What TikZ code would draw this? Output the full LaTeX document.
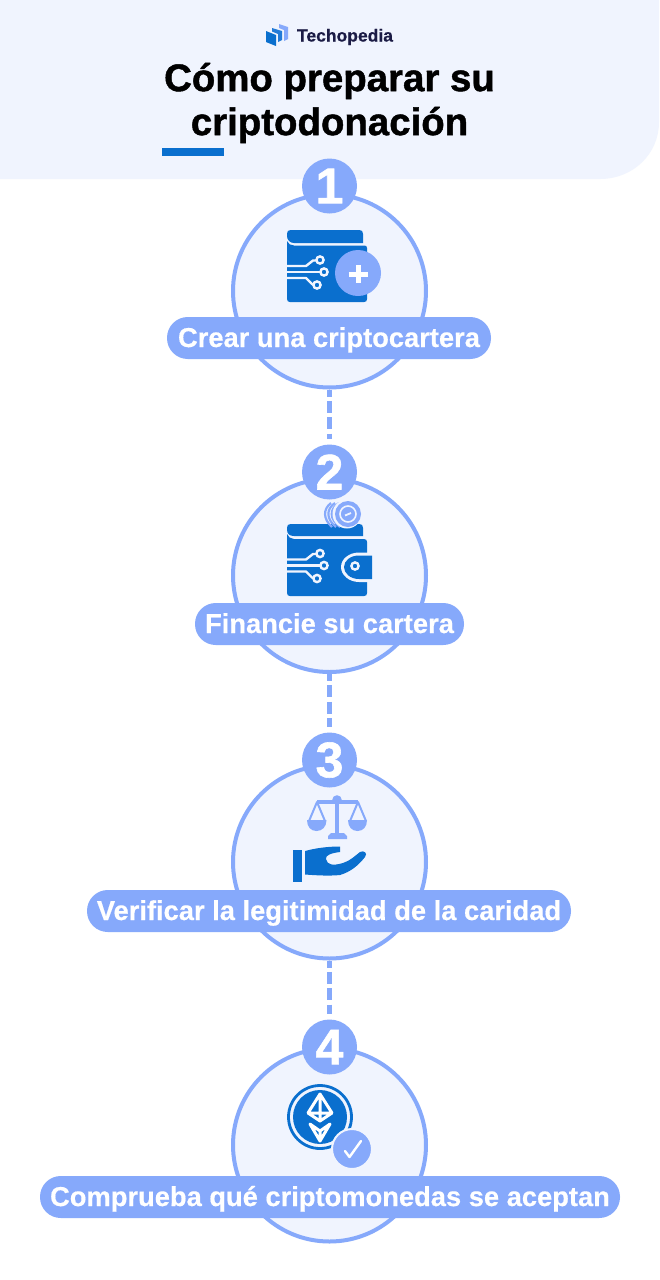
\documentclass[tikz,border=0pt]{standalone}
\usepackage{fontspec}
\setmainfont{Liberation Sans}
\newfontfamily\heavyfont[FakeBold=1.2]{Liberation Sans Bold}
\newfontfamily\semifont[FakeBold=0.5]{Liberation Sans Bold}
\definecolor{peri}{HTML}{86A9FB}
\definecolor{pale}{HTML}{F0F4FE}
\definecolor{deep}{HTML}{0A6FCE}
\definecolor{ink}{HTML}{1B1B45}
\tikzset{
  ringnode/.style={circle,draw=peri,line width=2pt,fill=pale,minimum size=96.5pt,inner sep=0pt},
  numnode/.style={circle,fill=peri,minimum size=27.5pt,inner sep=0pt,text=white,font=\fontsize{25}{25}\heavyfont},
  pillnode/.style={rectangle,rounded corners=10.4pt,fill=peri,text=white,minimum height=21pt,inner sep=0pt,text height=12pt,text depth=3pt,font=\fontsize{13.65}{13.65}\semifont},
  linkline/.style={draw=peri,line width=2.2pt,dash pattern=on 6pt off 2.2pt,dash phase=2.5pt,shorten >=2.5pt},
  circuit/.style={draw=pale,line width=1.2pt,line join=round},
  pin/.style={draw=pale,line width=1.2pt,fill=deep},
  titletext/.style={font=\fontsize{19.2}{19.2}\heavyfont,text=black,inner sep=0pt},
}
\newcommand{\circuitset}[1]{%
  \begin{scope}[yshift=#1*-0.5pt]
    \draw[circuit] (287,266) -- (306,266) -- (313,260.5) -- (317,260.5);
    \draw[circuit] (287,272) -- (320,272);
    \draw[circuit] (287,278) -- (306,278) -- (312,284) -- (314,285);
    \draw[pin] (320,260) circle (3.6);
    \draw[pin] (324,272) circle (3.6);
    \draw[pin] (317,285) circle (3.6);
  \end{scope}}
\begin{document}
\begin{tikzpicture}[x=0.5pt,y=-0.5pt]
\useasboundingbox (0,0) rectangle (659,1280);
\fill[white] (0,0) rectangle (659,1280);
% header
\fill[pale] (0,0) -- (659,0) -- (659,122) .. controls (659,154) and (633,179) .. (600,179) -- (0,179) -- cycle;
\fill[deep] (162,148) rectangle (224,156);
% logo
\fill[deep] (266,31) -- (276,35) -- (276,46) -- (266,42) -- cycle;
\fill[deep!80!peri] (272,28) -- (282,31) -- (282,40) -- (278,42) -- (278,34) -- (272,31.5) -- cycle;
\fill[peri] (279,24) -- (288,27) -- (288,39) -- (284,41) -- (284,30) -- (279,28) -- cycle;
\node[font=\fontsize{8.75}{8.75}\semifont,text=ink,inner sep=0pt] (brand) at (345,37) {Techopedia};
\node[titletext] (title1) at (329.5,81) {Cómo preparar su};
\node[titletext] (title2) at (329.5,125) {criptodonación};
% rings
\node[ringnode] (r1) at (329.5,291) {};
\node[ringnode] (r2) at (329.5,575.5) {};
\node[ringnode] (r3) at (329.5,862) {};
\node[ringnode] (r4) at (329.5,1145) {};
% numbers
\node[numnode] (n1) at (329.5,186) {1};
\node[numnode] (n2) at (329.5,472) {2};
\node[numnode] (n3) at (329.5,760) {3};
\node[numnode] (n4) at (329.5,1047) {4};
% connectors
\draw[linkline] (r1) -- (n2);
\draw[linkline] (r2) -- (n3);
\draw[linkline] (r3) -- (n4);
% icon 1
\fill[deep] (291,230) -- (359,230) .. controls (362,230) and (363,231) .. (363,234) -- (363,243) -- (294,243) .. controls (290,243) and (287,240) .. (287,236) -- (287,234) .. controls (287,231) and (288,230) .. (291,230) -- cycle;
\fill[deep] (287,241) .. controls (288,244) and (291,245.5) .. (294,245.5) -- (364,245.5) .. controls (366,245.5) and (367,246) .. (367,248) -- (367,299) .. controls (367,301) and (366,302) .. (364,302) -- (290,302) .. controls (288,302) and (287,301) .. (287,299) -- cycle;
\circuitset{0}
\fill[peri] (358,273) circle (23);
\draw[white,line width=2.5pt] (358,265) -- (358,283) (348.5,274) -- (367.5,274);
% icon 2
\fill[deep] (291,524) -- (359,524) .. controls (362,524) and (363,525) .. (363,528) -- (363,536) -- (294,536) .. controls (290,536) and (287,534) .. (287,530) -- (287,528) .. controls (287,525) and (288,524) .. (291,524) -- cycle;
\fill[deep] (287,534) .. controls (288,537) and (291,539) .. (294,539) -- (364,539) .. controls (366,539) and (367,540) .. (367,542) -- (367,593) .. controls (367,595) and (366,596) .. (364,596) -- (290,596) .. controls (288,596) and (287,595) .. (287,593) -- cycle;
\fill[pale] (359,552.5) -- (376,552.5) -- (376,582) -- (359,582) .. controls (349,582) and (341,575) .. (341,567) .. controls (341,559) and (349,552.5) .. (359,552.5) -- cycle;
\fill[deep] (372,555.5) -- (359,555.5) .. controls (350,555.5) and (344,561) .. (344,567) .. controls (344,573) and (350,579) .. (359,579) -- (372,579) -- cycle;
\draw[pin] (355,566) circle (3.6);
\circuitset{293.5}
\foreach \dx/\rr in {-17/9,-13/10,-9/11,-5/12}{
  \draw[peri,line width=1.1pt] (348+\dx,503) .. controls (348+\dx-\rr*0.9,509) and (348+\dx-\rr*0.9,519) .. (348+\dx+1,527);
}
\fill[pale] (347,514) circle (14.5);
\fill[peri] (348,514) circle (13);
\draw[pale,line width=0.8pt] (348,514) circle (8);
\draw[pale,line width=0.9pt] (345,515.5) -- (351,513);
% icon 3
\draw[peri,line width=1.7pt] (317,802) -- (358,802) (337,802) -- (337,834);
\fill[peri] (337,800) circle (4.8);
\draw[peri,line width=1pt,line join=round] (309,821) -- (317,802) -- (325,821) (350,821) -- (358,802) -- (366,821);
\fill[peri] (307,820) -- (326.5,820) .. controls (326.5,827) and (322,831) .. (316.5,831) .. controls (311,831) and (307,827) .. (307,820) -- cycle;
\fill[peri] (348,820) -- (367,820) .. controls (367,827) and (363,831) .. (357.5,831) .. controls (352,831) and (348,827) .. (348,820) -- cycle;
\fill[peri] (331,833) -- (344,833) -- (347,836) -- (347,839) -- (328,839) -- (328,836) -- cycle;
\fill[deep] (293,850) rectangle (302,882);
\fill[deep] (305,851) .. controls (316,848) and (328,846.5) .. (340,846.5) -- (340,852) .. controls (332,853) and (325,855) .. (326,859) .. controls (327,865) and (333,866) .. (343,863) .. controls (350,861) and (356,855) .. (360,852) .. controls (364,850) and (368,853) .. (365,857) .. controls (358,866) and (350,872) .. (340,875) .. controls (330,876) and (318,875.5) .. (305,874.5) -- cycle;
% icon 4
\draw[deep,line width=1.4pt] (320,1117) circle (31.5);
\fill[deep] (320,1117) circle (27);
\draw[white,line width=1.5pt,line join=round] (320,1094) -- (308,1113) -- (320,1121) -- (332,1113) -- cycle (320,1094) -- (320,1121) (308,1113) -- (332,1113);
\draw[white,line width=1.5pt,line join=round] (310,1124) -- (320,1141) -- (330,1124) -- (320,1131) -- cycle (320,1131) -- (320,1141);
\draw[pale,line width=1pt,fill=peri] (352,1149) circle (20);
\draw[white,line width=1.2pt,line cap=round,line join=round] (345,1151) -- (349.5,1157) -- (361,1141);
% pills
\node[pillnode,minimum width=162pt] (p1) at (329,338) {Crear una criptocartera};
\node[pillnode,minimum width=134.5pt] (p2) at (329.5,624) {Financie su cartera};
\node[pillnode,minimum width=242pt] (p3) at (329,911) {Verificar la legitimidad de la caridad};
\node[pillnode,minimum width=290pt] (p4) at (330,1197) {Comprueba qué criptomonedas se aceptan};
\end{tikzpicture}
\end{document}
